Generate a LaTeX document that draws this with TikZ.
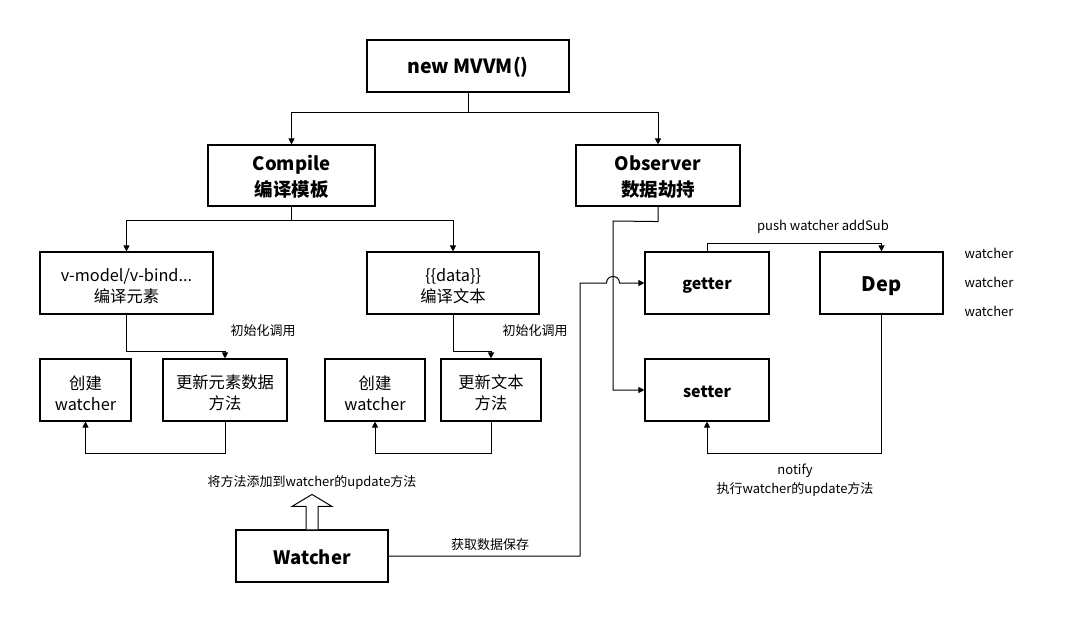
\documentclass[tikz,border=0pt]{standalone}
\usepackage{fontspec}
\setmainfont{Noto Sans CJK SC}
\usetikzlibrary{arrows.meta,calc}
\newcommand\tsu[1]{\rule{0pt}{#1}}
\begin{document}
\begin{tikzpicture}[x=1pt,y=-1pt,
  box/.style={draw,line width=1.1pt,inner sep=0pt,align=center,font=\fontsize{16.3}{21}\selectfont},
  titlebox/.style={box,font=\bfseries\fontsize{18.5}{26}\selectfont},
  arr/.style={line width=1pt,-{Triangle[length=6pt,width=6pt]}},
  lbl/.style={font=\fontsize{13}{16}\selectfont,inner sep=0pt}]
\useasboundingbox[fill=white] (0,0) rectangle (1070,620);
% top
\node[box,minimum width=202pt,minimum height=52pt,font=\bfseries\fontsize{19.5}{23}\selectfont] (mvvm) at (468,66) {\tsu{19pt}new MVVM()};
\node[titlebox,minimum width=167pt,minimum height=61pt] (compile) at (291.5,175.5) {\tsu{18.5pt}Compile\\编译模板};
\node[titlebox,minimum width=164pt,minimum height=61pt] (observer) at (658,175.5) {\tsu{18.5pt}Observer\\数据劫持};
% compile children
\node[box,minimum width=173pt,minimum height=62pt] (vmodel) at (126.5,283) {\tsu{20pt}v-model/v-bind...\\编译元素};
\node[box,minimum width=172pt,minimum height=62pt] (data) at (453,283) {\tsu{20pt}\{\{data\}\}\\编译文本};
\node[box,minimum width=91pt,minimum height=62pt] (cw1) at (85.5,390) {\tsu{20pt}创建\\watcher};
\node[box,minimum width=124pt,minimum height=62pt] (upd1) at (225,390) {\tsu{20pt}更新元素数据\\方法};
\node[box,minimum width=100pt,minimum height=62pt] (cw2) at (375,390) {\tsu{20pt}创建\\watcher};
\node[box,minimum width=100pt,minimum height=62pt] (upd2) at (491,390) {\tsu{20pt}更新文本\\方法};
% observer children
\node[box,minimum width=124pt,minimum height=62pt,font=\bfseries\fontsize{16}{20}\selectfont] (getter) at (707,283) {\tsu{16pt}getter};
\node[box,minimum width=123pt,minimum height=62pt,font=\bfseries\fontsize{20}{24}\selectfont] (dep) at (881.5,283) {\tsu{20.5pt}Dep};
\node[box,minimum width=124pt,minimum height=62pt,font=\bfseries\fontsize{16}{20}\selectfont] (setter) at (707,390) {\tsu{16pt}setter};
\node[box,minimum width=152pt,minimum height=52pt,font=\bfseries\fontsize{18.5}{22}\selectfont] (watcher) at (312,556) {\tsu{17pt}Watcher};
% labels
\node[lbl] (l1) at (263,331) {初始化调用};
\node[lbl] (l2) at (535,331) {初始化调用};
\node[lbl] (lpush) at (823,227) {push watcher addSub};
\node[lbl] (w1) at (989,253) {watcher};
\node[lbl] (w2) at (989,282) {watcher};
\node[lbl] (w3) at (989,311) {watcher};
\node[lbl] (lnot) at (795,471) {notify};
\node[lbl] (lexec) at (795,489) {执行watcher的update方法};
\node[lbl] (ladd) at (312,482) {将方法添加到watcher的update方法};
\node[lbl] (lget) at (490,545) {获取数据保存};
% connectors
\draw[arr] (mvvm.south) -- ++(0,20) -| (compile.north);
\draw[arr] (mvvm.south) -- ++(0,20) -| (observer.north);
\draw[arr] (compile.south) -- ++(0,14) -| (vmodel.north);
\draw[arr] (compile.south) -- ++(0,14) -| (data.north);
\draw[arr] (vmodel.south) -- ++(0,37) -| (upd1.north);
\draw[arr] (data.south) -- ++(0,37) -| (upd2.north);
\draw[arr] (upd1.south) -- ++(0,32) -| (cw1.south);
\draw[arr] (upd2.south) -- ++(0,32) -| (cw2.south);
\coordinate (ob1) at (613,221);
\draw[arr] (observer.south) -- ++(0,15) -- (ob1) |- (setter.west);
\draw[arr] (getter.north) -- ++(0,-8) -| (dep.north);
\draw[arr] (dep.south) -- ++(0,139) -| (setter.south);
\coordinate (wa) at (580,556);
\coordinate (wb) at (580,283);
\coordinate (h1) at (606.5,283);
\coordinate (h2) at (619.5,283);
\draw[arr] (watcher.east) -- (wa) -- (wb) -- (h1) .. controls (606.5,274.3) and (619.5,274.3) .. (h2) -- (getter.west);
% hollow arrow
\draw[line width=1pt,fill=white] ($(watcher.north)+(-6,0)$) -- ++(0,-23) -- ++(-14,0) -- ($(watcher.north)+(0,-35)$) -- ($(watcher.north)+(20,-23)$) -- ++(-14,0) -- ($(watcher.north)+(6,0)$);
\end{tikzpicture}
\end{document}
